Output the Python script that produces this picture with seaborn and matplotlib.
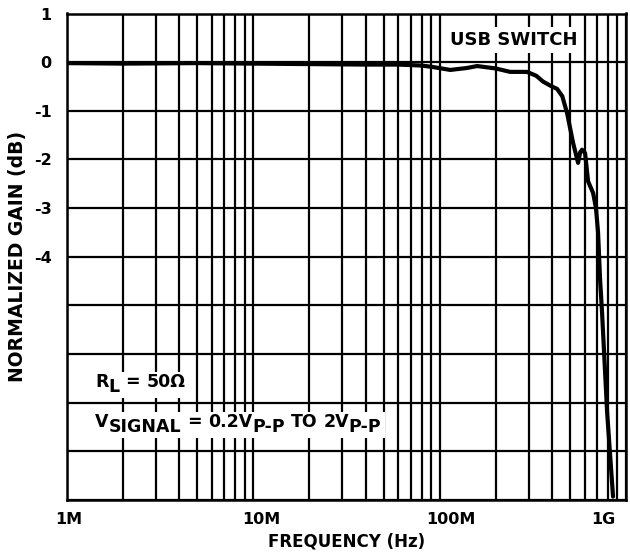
import numpy as np
import pandas as pd
import matplotlib
matplotlib.use("Agg")
import matplotlib.pyplot as plt
import matplotlib.ticker as mticker
from matplotlib.transforms import offset_copy, ScaledTranslation
from matplotlib.patches import Rectangle
import seaborn as sns

# frequency response (Hz, dB)
freq_hz = [1e6, 2e6, 5e6, 10e6, 20e6, 40e6, 60e6, 80e6, 92e6, 114e6, 140e6,
           159e6, 200e6, 239e6, 294e6, 330e6, 359e6, 400e6, 427e6, 455e6,
           483e6, 520e6, 553e6, 568e6, 581e6, 603e6, 626e6, 666e6, 690e6,
           708e6, 726e6, 744e6, 792e6, 852e6]
gain_db = [-0.02, -0.03, -0.02, -0.03, -0.04, -0.05, -0.05, -0.07, -0.1,
           -0.16, -0.12, -0.08, -0.13, -0.2, -0.2, -0.28, -0.4, -0.5, -0.55,
           -0.7, -1.05, -1.66, -2.07, -1.85, -1.8, -1.87, -2.45, -2.69, -3.0,
           -3.5, -4.47, -5.15, -7.2, -8.93]

x_ticks = [1e6, 1e7, 1e8, 1e9]
x_labels = ["1M", "10M", "100M", "1G"]
y_ticks = [1, 0, -1, -2, -3, -4, -5, -6, -7, -8, -9]
y_labels = ["1", "0", "-1", "-2", "-3", "-4", "", "", "", "", ""]

# annotation pieces: (text, baseline shift in px, space after)
rl_runs = [("R", 0, False), ("L", -5, True), ("=", 0, True), ("50Ω", 0, False)]
vsig_runs = [("V", 0, False), ("SIGNAL", -5, True), ("=", 0, True),
             ("0.2V", 0, False), ("P-P", -5, True), ("TO", 0, True),
             ("2V", 0, False), ("P-P", -5, False)]

sns.set_style("white")
plt.rcParams["font.family"] = ["DejaVu Sans"]
plt.rcParams["font.weight"] = "bold"
plt.rcParams["text.color"] = "black"
plt.rcParams["axes.labelcolor"] = "black"
plt.rcParams["xtick.color"] = "black"
plt.rcParams["ytick.color"] = "black"

df = pd.DataFrame({"freq": freq_hz, "gain": gain_db})

fig = plt.figure(figsize=(6.3, 5.56), dpi=100)
ax = fig.add_axes([67 / 630, 1 - 500 / 556, 559 / 630, 486.5 / 556])

sns.lineplot(data=df, x="freq", y="gain", ax=ax, color="black", linewidth=3,
             zorder=5)

ax.set_xscale("log")
ax.set_xlim(1e6, 1e9)
ax.set_ylim(-9, 1)
ax.xaxis.set_major_locator(mticker.FixedLocator(x_ticks))
ax.xaxis.set_major_formatter(mticker.FixedFormatter(x_labels))
ax.xaxis.set_minor_locator(mticker.LogLocator(base=10, subs=range(2, 10)))
ax.xaxis.set_minor_formatter(mticker.NullFormatter())
ax.set_yticks(y_ticks)
ax.set_yticklabels(y_labels)

ax.grid(True, which="both", axis="x", color="black", linewidth=1.6)
ax.grid(True, which="major", axis="y", color="black", linewidth=1.6)
ax.set_axisbelow(True)
for s in ax.spines.values():
    s.set_color("black")
    s.set_linewidth(1.8)
ax.tick_params(axis="both", which="both", length=0, labelsize=11.5,
               labelcolor="black")
ax.tick_params(axis="x", pad=9)
ax.tick_params(axis="y", pad=11)

# nudge x tick labels like the reference
shifts_px = [2, 8, 11, -23]
for lab, dx in zip(ax.get_xticklabels(), shifts_px):
    lab.set_transform(lab.get_transform() +
                      ScaledTranslation(dx / 100, 0, fig.dpi_scale_trans))

ax.set_xlabel("FREQUENCY (Hz)", fontsize=12, fontweight="bold", color="black")
ax.set_ylabel("NORMALIZED GAIN (dB)", fontsize=13.5, fontweight="bold",
              color="black")
ax.xaxis.set_label_coords(0.5, -0.066)
ax.yaxis.set_label_coords(-0.072, 0.5)

ax.text(0.80, 0.945, "USB SWITCH", transform=ax.transAxes, fontsize=13,
        fontweight="bold", color="black", ha="center", va="center",
        bbox=dict(facecolor="white", edgecolor="none", pad=3), zorder=6)

renderer = fig.canvas.get_renderer()


def text_width(s, size):
    t = fig.text(0, 0, s, fontsize=size, fontweight="bold")
    w = t.get_window_extent(renderer).width
    t.remove()
    return w


def draw_runs(x, y, runs, size):
    space = text_width("x x", size) - text_width("xx", size)
    dx = 0
    boxes = []
    for s, dy, gap in runs:
        tr = offset_copy(ax.transAxes, fig=fig, x=dx, y=dy, units="dots")
        t = ax.text(x, y, s, transform=tr, fontsize=size, fontweight="bold",
                    color="black", ha="left", va="baseline", zorder=7)
        bb = t.get_window_extent(renderer)
        boxes.append(bb)
        dx += bb.width + (space if gap else 0)
    x0 = min(b.x0 for b in boxes) - 5
    x1 = max(b.x1 for b in boxes) + 4
    y0 = min(b.y0 for b in boxes) - 2
    y1 = max(b.y1 for b in boxes) + 1
    inv = ax.transAxes.inverted()
    (ax0, ay0), (ax1, ay1) = inv.transform([(x0, y0), (x1, y1)])
    ax.add_patch(Rectangle((ax0, ay0), ax1 - ax0, ay1 - ay0,
                           transform=ax.transAxes, facecolor="white",
                           edgecolor="none", zorder=6))


draw_runs(0.050, 0.2323, rl_runs, 12.5)
draw_runs(0.050, 0.150, vsig_runs, 12.5)

fig.savefig("out.png", dpi=100)
